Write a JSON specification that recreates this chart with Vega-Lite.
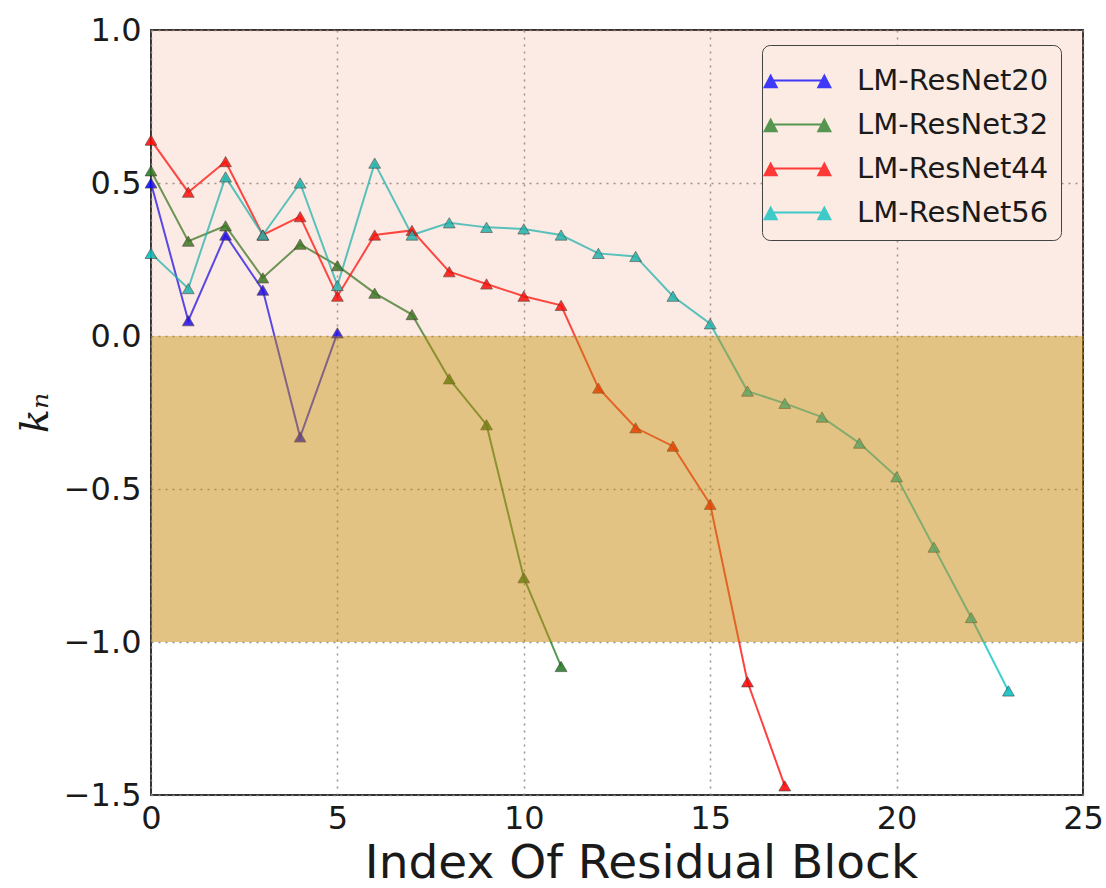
{
  "$schema": "https://vega.github.io/schema/vega-lite/v6.json",
  "width": 932,
  "height": 765,
  "autosize": {"type": "none"},
  "padding": {"left": 151, "top": 30, "right": 23, "bottom": 93},
  "background": "white",
  "config": {
    "view": {"stroke": "#333333", "strokeWidth": 2},
    "axis": {
      "zindex": 1,
      "grid": true,
      "gridColor": "#888888",
      "gridDash": [2, 5],
      "gridWidth": 1.5,
      "gridOpacity": 0.9,
      "domain": false,
      "ticks": false,
      "labelFont": "DejaVu Sans",
      "labelFontSize": 32,
      "labelColor": "#1a1a1a",
      "titleColor": "#1a1a1a",
      "titleFontWeight": "normal"
    }
  },
  "datasets": {
    "series": [
      {"model": "LM-ResNet20", "block": 0, "k": 0.50},
      {"model": "LM-ResNet20", "block": 1, "k": 0.05},
      {"model": "LM-ResNet20", "block": 2, "k": 0.33},
      {"model": "LM-ResNet20", "block": 3, "k": 0.15},
      {"model": "LM-ResNet20", "block": 4, "k": -0.33},
      {"model": "LM-ResNet20", "block": 5, "k": 0.01},
      {"model": "LM-ResNet32", "block": 0, "k": 0.54},
      {"model": "LM-ResNet32", "block": 1, "k": 0.31},
      {"model": "LM-ResNet32", "block": 2, "k": 0.36},
      {"model": "LM-ResNet32", "block": 3, "k": 0.19},
      {"model": "LM-ResNet32", "block": 4, "k": 0.30},
      {"model": "LM-ResNet32", "block": 5, "k": 0.23},
      {"model": "LM-ResNet32", "block": 6, "k": 0.14},
      {"model": "LM-ResNet32", "block": 7, "k": 0.07},
      {"model": "LM-ResNet32", "block": 8, "k": -0.14},
      {"model": "LM-ResNet32", "block": 9, "k": -0.29},
      {"model": "LM-ResNet32", "block": 10, "k": -0.79},
      {"model": "LM-ResNet32", "block": 11, "k": -1.08},
      {"model": "LM-ResNet44", "block": 0, "k": 0.64},
      {"model": "LM-ResNet44", "block": 1, "k": 0.47},
      {"model": "LM-ResNet44", "block": 2, "k": 0.57},
      {"model": "LM-ResNet44", "block": 3, "k": 0.33},
      {"model": "LM-ResNet44", "block": 4, "k": 0.39},
      {"model": "LM-ResNet44", "block": 5, "k": 0.13},
      {"model": "LM-ResNet44", "block": 6, "k": 0.33},
      {"model": "LM-ResNet44", "block": 7, "k": 0.345},
      {"model": "LM-ResNet44", "block": 8, "k": 0.21},
      {"model": "LM-ResNet44", "block": 9, "k": 0.17},
      {"model": "LM-ResNet44", "block": 10, "k": 0.13},
      {"model": "LM-ResNet44", "block": 11, "k": 0.10},
      {"model": "LM-ResNet44", "block": 12, "k": -0.17},
      {"model": "LM-ResNet44", "block": 13, "k": -0.30},
      {"model": "LM-ResNet44", "block": 14, "k": -0.36},
      {"model": "LM-ResNet44", "block": 15, "k": -0.55},
      {"model": "LM-ResNet44", "block": 16, "k": -1.13},
      {"model": "LM-ResNet44", "block": 17, "k": -1.47},
      {"model": "LM-ResNet56", "block": 0, "k": 0.27},
      {"model": "LM-ResNet56", "block": 1, "k": 0.155},
      {"model": "LM-ResNet56", "block": 2, "k": 0.52},
      {"model": "LM-ResNet56", "block": 3, "k": 0.33},
      {"model": "LM-ResNet56", "block": 4, "k": 0.50},
      {"model": "LM-ResNet56", "block": 5, "k": 0.165},
      {"model": "LM-ResNet56", "block": 6, "k": 0.565},
      {"model": "LM-ResNet56", "block": 7, "k": 0.33},
      {"model": "LM-ResNet56", "block": 8, "k": 0.37},
      {"model": "LM-ResNet56", "block": 9, "k": 0.355},
      {"model": "LM-ResNet56", "block": 10, "k": 0.35},
      {"model": "LM-ResNet56", "block": 11, "k": 0.33},
      {"model": "LM-ResNet56", "block": 12, "k": 0.27},
      {"model": "LM-ResNet56", "block": 13, "k": 0.26},
      {"model": "LM-ResNet56", "block": 14, "k": 0.13},
      {"model": "LM-ResNet56", "block": 15, "k": 0.04},
      {"model": "LM-ResNet56", "block": 16, "k": -0.18},
      {"model": "LM-ResNet56", "block": 17, "k": -0.22},
      {"model": "LM-ResNet56", "block": 18, "k": -0.265},
      {"model": "LM-ResNet56", "block": 19, "k": -0.35},
      {"model": "LM-ResNet56", "block": 20, "k": -0.46},
      {"model": "LM-ResNet56", "block": 21, "k": -0.69},
      {"model": "LM-ResNet56", "block": 22, "k": -0.92},
      {"model": "LM-ResNet56", "block": 23, "k": -1.16}
    ]
  },
  "layer": [
    {
      "data": {"name": "series"},
      "mark": {"type": "line", "strokeWidth": 2, "opacity": 0.75},
      "encoding": {
        "x": {"field": "block", "type": "quantitative", "scale": {"domain": [0, 25], "nice": false, "zero": false},
              "axis": {"values": [0, 5, 10, 15, 20, 25], "title": "Index Of Residual Block", "titleFont": "DejaVu Sans", "titleFontSize": 47, "titlePadding": 6, "titleX": 490, "titleAnchor": null, "titleAlign": "center", "labelPadding": 8, "format": "d", "labelFlush": false}},
        "y": {"field": "k", "type": "quantitative", "scale": {"domain": [-1.5, 1.0], "nice": false, "zero": false},
              "axis": {"values": [-1.5, -1.0, -0.5, 0.0, 0.5, 1.0], "format": ".1f", "title": "kₙ", "titleFont": "DejaVu Serif", "titleFontStyle": "italic", "titleFontSize": 40, "titlePadding": 8, "labelPadding": 10, "labelFlush": false}},
        "color": {"field": "model", "type": "nominal",
                  "scale": {"domain": ["LM-ResNet20", "LM-ResNet32", "LM-ResNet44", "LM-ResNet56"], "range": ["#0000ff", "#1f7a1f", "#ff0000", "#00bfbf"]},
                  "legend": {
                    "title": null,
                    "orient": "none",
                    "legendX": 611,
                    "legendY": 15,
                    "padding": 12,
                    "fillColor": "#fbebe3",
                    "strokeColor": "#444444",
                    "cornerRadius": 8,
                    "labelFont": "DejaVu Sans",
                    "labelFontSize": 29,
                    "labelColor": "#1a1a1a",
                    "labelLimit": 400,
                    "rowPadding": 5,
                    "labelOffset": 36,
                    "symbolType": "M-1.2,0L1.2,0M-1.47,0.3L-1.2,-0.22L-0.93,0.3ZM0.93,0.3L1.2,-0.22L1.47,0.3Z",
                    "symbolSize": 2000,
                    "symbolStrokeWidth": 2
                  }}
      }
    },
    {
      "data": {"name": "series"},
      "mark": {"type": "point", "shape": "triangle-up", "filled": true, "size": 140, "opacity": 0.85, "stroke": "#222222", "strokeWidth": 1, "strokeOpacity": 0.6},
      "encoding": {
        "x": {"field": "block", "type": "quantitative"},
        "y": {"field": "k", "type": "quantitative"},
        "color": {"field": "model", "type": "nominal"}
      }
    },
    {
      "data": {"values": [{"lo": 0, "hi": 1}]},
      "mark": {"type": "rect", "color": "#e8704a", "opacity": 0.15},
      "encoding": {
        "y": {"field": "lo", "type": "quantitative"},
        "y2": {"field": "hi"}
      }
    },
    {
      "data": {"values": [{"lo": -1, "hi": 0}]},
      "mark": {"type": "rect", "color": "#c58709", "opacity": 0.5},
      "encoding": {
        "y": {"field": "lo", "type": "quantitative"},
        "y2": {"field": "hi"}
      }
    }
  ]
}
